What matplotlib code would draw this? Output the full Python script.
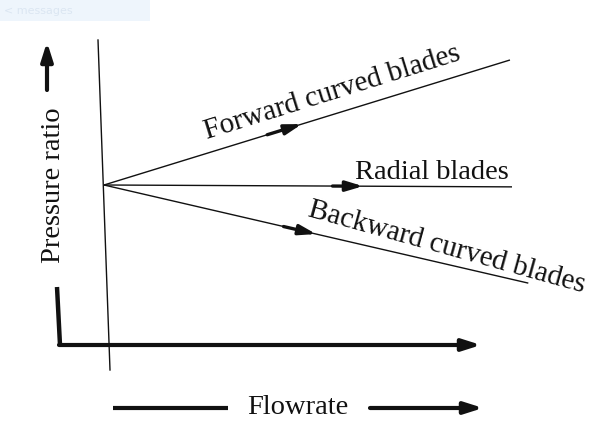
import matplotlib
matplotlib.use('Agg')
import matplotlib.pyplot as plt
from matplotlib.patches import Rectangle
import numpy as np

# ---- data (arbitrary units: flowrate vs pressure ratio) ----
forward_flow = [0.0, 9.95]
forward_pr = [1.0, 2.0]
radial_flow = [0.0, 10.0]
radial_pr = [1.0, 0.985]
backward_flow = [0.0, 10.4]
backward_pr = [1.0, 0.215]
series_labels = ["Forward curved blades", "Radial blades", "Backward curved blades"]
x_label = "Flowrate"
y_label = "Pressure ratio"

# ---- layout ----
W, H = 616, 438
X0, Y0, SX, SY = 104, 185, 40.8, 125  # origin pixel, px per unit

fig = plt.figure(figsize=(W / 100, H / 100), dpi=100)
ax = fig.add_axes([0, 0, 1, 1])
ax.set_xlim(-X0 / SX, (W - X0) / SX)
ax.set_ylim(1 - (H - Y0) / SY, 1 + Y0 / SY)
ax.axis('off')


def P(px, py):
    return ((px - X0) / SX, 1 - (py - Y0) / SY)


FONT = dict(family=['Liberation Serif', 'DejaVu Serif'], color='#111111')
INK = '#111111'

# faint top-left box from screenshot
ax.add_patch(Rectangle(P(0, 21), 150 / SX, 21 / SY, color='#eef5fc', lw=0, zorder=0))
ax.text(*P(4, 11), "< messages", fontsize=8, color='#dbe6f2', va='center', ha='left')

# data lines
for fx, fy in [(forward_flow, forward_pr), (radial_flow, radial_pr), (backward_flow, backward_pr)]:
    ax.plot(fx, fy, color=INK, lw=1.0, solid_capstyle='butt')


# arrows along the lines
def line_arrow(fx, fy, a, b):
    ta = (a, np.interp(a, fx, fy))
    tb = (b, np.interp(b, fx, fy))
    ax.annotate('', xy=tb, xytext=ta,
                arrowprops=dict(arrowstyle='-|>,head_length=1.0,head_width=0.3',
                                lw=2.4, color=INK, shrinkA=0, shrinkB=0))


line_arrow(forward_flow, forward_pr, 4.0, 4.85)
line_arrow(radial_flow, radial_pr, 5.6, 6.35)
line_arrow(backward_flow, backward_pr, 4.4, 5.2)

# slanted vertical line through origin (scan)
xa, ya = P(98, 40)
xb, yb = P(110, 370)
ax.plot([xa, xb], [ya, yb], color=INK, lw=1.0)

# L-shaped axis
xa, ya = P(57, 287)
xb, yb = P(60, 345)
ax.plot([xa, xb], [ya, yb], color=INK, lw=3.2, solid_capstyle='butt')
ax.annotate('', xy=P(481, 345), xytext=P(59, 345),
            arrowprops=dict(arrowstyle='-|>,head_length=1.1,head_width=0.35',
                            lw=3.0, color=INK, shrinkA=0, shrinkB=0))

# Pressure ratio arrow
ax.annotate('', xy=P(47, 42), xytext=P(47, 90),
            arrowprops=dict(arrowstyle='-|>,head_length=1.1,head_width=0.35',
                            lw=3.0, color=INK, shrinkA=0, shrinkB=0))
ax.text(*P(54, 185), y_label, rotation=90, fontsize=20.5, ha='center', va='center', **FONT)

# Flowrate label with arrows
ax.plot(*zip(P(113, 408), P(228, 408)), color=INK, lw=3.0, solid_capstyle='butt')
ax.annotate('', xy=P(483, 408), xytext=P(370, 408),
            arrowprops=dict(arrowstyle='-|>,head_length=1.1,head_width=0.35',
                            lw=3.0, color=INK, shrinkA=0, shrinkB=0))
ax.text(*P(298, 407), x_label, fontsize=20.5, ha='center', va='center', **FONT)

# Series labels
ax.text(*P(332, 93), series_labels[0], rotation=17.3, rotation_mode='anchor',
        fontsize=21, ha='center', va='center', **FONT)
ax.text(*P(432, 179), series_labels[1], fontsize=20.5, ha='center', va='baseline', **FONT)
ax.text(*P(447, 248), series_labels[2], rotation=-15.5, rotation_mode='anchor',
        fontsize=21, ha='center', va='center', **FONT)

fig.savefig('out.png', dpi=100, facecolor='white')
